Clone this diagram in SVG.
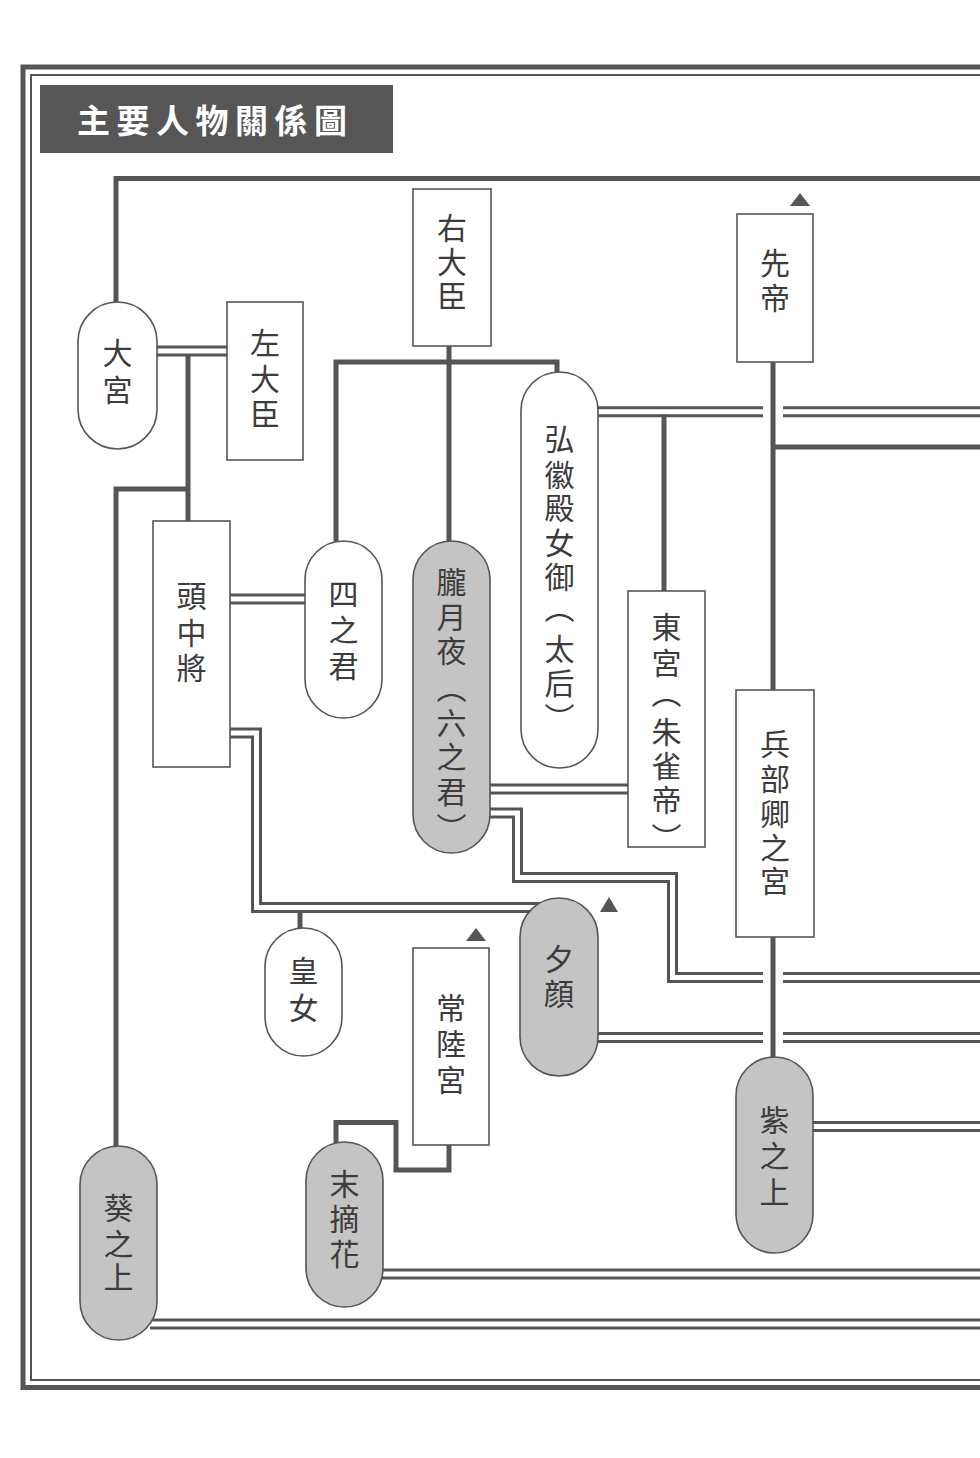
<svg xmlns="http://www.w3.org/2000/svg" width="980" height="1458" viewBox="0 0 980 1458">
<style>
.box{fill:#fff;stroke:#555;stroke-width:1.6}
.shade{fill:#c4c4c4;stroke:#555;stroke-width:1.6}
.ln{fill:none;stroke:#555;stroke-width:5;stroke-linejoin:miter}
.dbo{fill:none;stroke:#555;stroke-width:11;stroke-linejoin:miter}
.dbi{fill:none;stroke:#fff;stroke-width:5;stroke-linejoin:miter}
.lb{font-family:"Noto Sans CJK TC","Noto Sans CJK JP",sans-serif;font-size:30px;fill:#3c3c3c;text-anchor:middle;dominant-baseline:central}
.tri{fill:#555}
</style>
<rect width="980" height="1458" fill="#fff"/>
<g id="frame">
<path d="M985 67 H23 V1387.5 H985" fill="none" stroke="#555" stroke-width="5"/>
<path d="M985 75 H31 V1380 H985" fill="none" stroke="#555" stroke-width="2"/>
</g>
<g id="title">
<rect x="40" y="85" width="353" height="68" fill="#565656"/>
<text x="77" y="119" font-family="'Noto Sans CJK TC','Noto Sans CJK JP',sans-serif" font-size="33" font-weight="bold" letter-spacing="6.5" fill="#fff" dominant-baseline="central">主要人物關係圖</text>
</g>
<g id="connectors">
<g class="dbo">
<path d="M150 351 H228"/>
<path d="M225 599 H315"/>
<path d="M590 411.75 H763"/><path d="M783 411.75 H985"/>
<path d="M480 789 H635"/>
<path d="M480 813 H517.5 V877.5 H672.5 V977.5 H763"/><path d="M783 977.5 H985"/>
<path d="M225 733 H256.5 V907.5 H560"/>
<path d="M590 1037.5 H763"/><path d="M783 1037.5 H985"/>
<path d="M805 1126.5 H985"/>
<path d="M375 1274 H985"/>
<path d="M150 1324 H985"/>
</g>
<g class="dbi">
<path d="M150 351 H228"/>
<path d="M225 599 H315"/>
<path d="M590 411.75 H763"/><path d="M783 411.75 H985"/>
<path d="M480 789 H635"/>
<path d="M480 813 H517.5 V877.5 H672.5 V977.5 H763"/><path d="M783 977.5 H985"/>
<path d="M225 733 H256.5 V907.5 H560"/>
<path d="M590 1037.5 H763"/><path d="M783 1037.5 H985"/>
<path d="M805 1126.5 H985"/>
<path d="M375 1274 H985"/>
<path d="M150 1324 H985"/>
</g>
<g class="ln">
<path d="M116 310 V178.5 H985"/>
<path d="M188 354 V521"/>
<path d="M188 489 H116 V1150"/>
<path d="M449 346 V545"/>
<path d="M336 545 V362 H557 V376"/>
<path d="M773 362 V690"/>
<path d="M773 447 H985"/>
<path d="M664 414.5 V591"/>
<path d="M773 937 V1062"/>
<path d="M300 911 V932"/>
<path d="M449 1145 V1170 H396 V1122.5 H336 V1146"/>
</g>
</g>
<g id="n-oomiya"><rect class="box" x="78" y="302" width="79" height="147" rx="39.5"/><text class="lb" x="117.5 117.5" y="351 388">大宮</text></g>
<g id="n-sadaijin"><rect class="box" x="227" y="302" width="76" height="158"/><text class="lb" x="265 265 265" y="341 377 412">左大臣</text></g>
<g id="n-udaijin"><rect class="box" x="413" y="189" width="78" height="157"/><text class="lb" x="452 452 452" y="226 260 294">右大臣</text></g>
<g id="n-sentei"><polygon class="tri" points="790,206 810,206 800,193"/><rect class="box" x="737" y="214" width="76" height="148"/><text class="lb" x="775 775" y="261 296">先帝</text></g>
<g id="n-tounochujo"><rect class="box" x="153" y="521" width="77" height="246"/><text class="lb" x="191.5 191.5 191.5" y="594 631 666">頭中將</text></g>
<g id="n-shinokimi"><rect class="box" x="305" y="541" width="77" height="177" rx="38.5"/><text class="lb" x="343.5 343.5 343.5" y="592 628 664">四之君</text></g>
<g id="n-oborozukiyo"><rect class="shade" x="413" y="541" width="77" height="312" rx="38.5"/><text class="lb" x="451.5 451.5 451.5 451.5 451.5 451.5 451.5 451.5" y="580 615 649 686 721 755 790 826">朧月夜︵六之君︶</text></g>
<g id="n-kokiden"><rect class="box" x="521" y="372" width="77" height="396" rx="38.5"/><text class="lb" x="559.5 559.5 559.5 559.5 559.5 559.5 559.5 559.5 559.5" y="437 473 506 541 575 606 647 681 716">弘徽殿女御︵太后︶</text></g>
<g id="n-touguu"><rect class="box" x="628" y="591" width="77" height="256"/><text class="lb" x="666.5 666.5 666.5 666.5 666.5 666.5 666.5" y="625 661 691 730 764 798 836">東宮︵朱雀帝︶</text></g>
<g id="n-hyoubukyou"><rect class="box" x="736" y="690" width="78" height="247"/><text class="lb" x="775 775 775 775 775" y="742 777 812 846 879">兵部卿之宮</text></g>
<g id="n-koujo"><rect class="box" x="265" y="928" width="77" height="128" rx="38.5"/><text class="lb" x="303.5 303.5" y="969 1006">皇女</text></g>
<g id="n-hitachinomiya"><polygon class="tri" points="466,941 486,941 476,928"/><rect class="box" x="413" y="948" width="76" height="197"/><text class="lb" x="451 451 451" y="1006 1042 1078">常陸宮</text></g>
<g id="n-yuugao"><polygon class="tri" points="600,912 618,912 609,897"/><rect class="shade" x="520" y="898" width="78" height="178" rx="39"/><text class="lb" x="559 559" y="957 992">夕顔</text></g>
<g id="n-murasaki"><rect class="shade" x="736" y="1057" width="77" height="196" rx="38.5"/><text class="lb" x="774.5 774.5 774.5" y="1118 1154 1190">紫之上</text></g>
<g id="n-suetsumuhana"><rect class="shade" x="306" y="1142" width="77" height="165" rx="38.5"/><text class="lb" x="344.5 344.5 344.5" y="1182 1217 1252">末摘花</text></g>
<g id="n-aoinoue"><rect class="shade" x="80" y="1146" width="77" height="194" rx="38.5"/><text class="lb" x="118.5 118.5 118.5" y="1206 1242 1275">葵之上</text></g>
</svg>
